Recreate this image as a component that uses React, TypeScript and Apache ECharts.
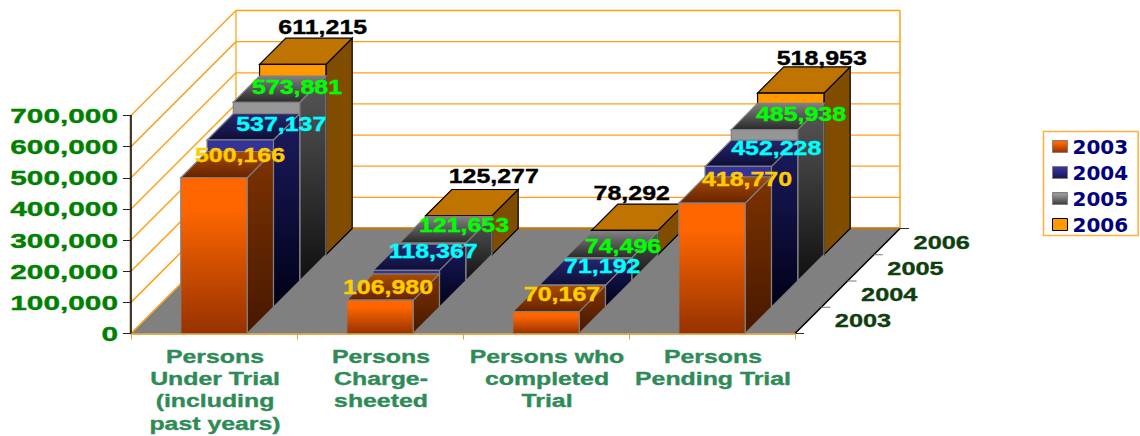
import React, { useEffect, useRef } from "react";
import * as echarts from "echarts";

const categories = [
  "Persons\nUnder Trial\n(including\npast years)",
  "Persons\nCharge-\nsheeted",
  "Persons who\ncompleted\nTrial",
  "Persons\nPending Trial",
];
const years = ["2003", "2004", "2005", "2006"];
const persons2003 = [500166, 106980, 70167, 418770];
const persons2004 = [537137, 118367, 71192, 452228];
const persons2005 = [573881, 121653, 74496, 485938];
const persons2006 = [611215, 125277, 78292, 518953];
const yTicks = [0, 100000, 200000, 300000, 400000, 500000, 600000, 700000];
const yTickLabels = ["0", "100,000", "200,000", "300,000", "400,000", "500,000", "600,000", "700,000"];

const seriesValues = [persons2003, persons2004, persons2005, persons2006];

// Hand-placed data label offsets from the bar's front-top centre [year][category]
const labelOffsets = [
  [[26, -22], [8, -13], [16, -17], [35, -24]],
  [[41, -15.5], [27, -19], [30, -18.5], [38, -18]],
  [[30.5, -15], [31.5, -18], [24.5, -11], [36.5, -15]],
  [[30, -37], [35, -39], [7, -37], [31, -35]],
];
const labelColors = ["#FFCC00", "#00FFFF", "#00FF00", "#000000"];

const SLOT = 26.25;
const DEPTH = SLOT * 4;
const BAR_RATIO = 0.4;
const FONT = '"Liberation Sans", Arial, sans-serif';

const grad = (a: string, b: string, mid = 0.15) =>
  new echarts.graphic.LinearGradient(0, 0, 0, 1, [
    { offset: 0, color: a },
    { offset: mid, color: a },
    { offset: 1, color: b },
  ]);

const barStyles = [
  {
    front: () => grad("#FF6600", "#963200", 0.2),
    side: () => grad("#7D3300", "#471800", 0),
    top: () => grad("#A84E00", "#662200", 0),
    stroke: "#808080",
  },
  {
    front: () => grad("#333399", "#151550", 0.2),
    side: () => grad("#1C1C60", "#000018", 0),
    top: () => grad("#26266E", "#0E0E38", 0),
    stroke: "#808080",
  },
  {
    front: () => grad("#969696", "#3A3A3A", 0.2),
    side: () => grad("#585858", "#101010", 0),
    top: () => grad("#808080", "#2A2A2A", 0),
    stroke: "#808080",
  },
  {
    front: () => "#FF9900",
    side: () => "#7F4C00",
    top: () => "#BF7300",
    stroke: "#000000",
  },
];

const txt = (
  x: number,
  y: number,
  text: string,
  font: string,
  fill: string,
  scaleX: number,
  align: string,
  lineHeight?: number,
  vAlign = "middle"
) => ({
  type: "text",
  x,
  y,
  scaleX,
  style: {
    x: 0,
    y: 0,
    text,
    font,
    fill,
    stroke: fill,
    lineWidth: 0.35,
    align,
    verticalAlign: vAlign,
    textAlign: align,
    textVerticalAlign: vAlign,
    lineHeight,
  },
  silent: true,
});

const line = (x1: number, y1: number, x2: number, y2: number, stroke: string, lineWidth = 1) => ({
  type: "line",
  shape: { x1, y1, x2, y2 },
  style: { stroke, lineWidth, fill: null },
  silent: true,
});

const poly = (points: number[][], fill: any, stroke: string | null, lineWidth = 1.2) => ({
  type: "polygon",
  shape: { points },
  style: { fill, stroke, lineWidth, lineJoin: "miter" },
  silent: true,
});

export default function App() {
  const ref = useRef<HTMLDivElement>(null);

  useEffect(() => {
    const chart = echarts.init(ref.current!, undefined, { renderer: "svg" });

    const WALL = "#FF9F14";

    const wallSeries = {
      type: "custom",
      name: "walls",
      z: 1,
      clip: false,
      silent: true,
      encode: { x: 0, y: 1 },
      data: yTicks.map((v) => [0, v]),
      renderItem: (params: any, api: any) => {
        const v = api.value(1);
        const catW = api.size([1, 0])[0];
        const [cx, y] = api.coord([0, v]);
        const x0 = cx - catW / 2;
        const x1 = x0 + catW * categories.length;
        const children: any[] = [];
        if (params.dataIndex === 0) {
          children.push(
            poly(
              [
                [x0, y],
                [x1, y],
                [x1 + DEPTH, y - DEPTH],
                [x0 + DEPTH, y - DEPTH],
              ],
              "#808080",
              null
            )
          );
          children.push(line(x0 + DEPTH, y - DEPTH, x1 + DEPTH, y - DEPTH, "#B8791E", 2.5));
          const top = api.coord([0, yTicks[yTicks.length - 1]])[1] - DEPTH;
          children.push(line(x0 + DEPTH, top, x0 + DEPTH, y - DEPTH, WALL, 1.2));
          children.push(line(x1 + DEPTH, top, x1 + DEPTH, y - DEPTH, WALL, 1.5));
          children.push(line(x0, y, x0 + DEPTH, y - DEPTH, WALL, 1.5));
          children.push(line(x0 - 1, y, x0 - 1, api.coord([0, yTicks[yTicks.length - 1]])[1], "#C79A5E", 1));
        } else {
          children.push(line(x0, y, x0 + DEPTH, y - DEPTH, WALL, 1.5));
          children.push(line(x0 + DEPTH, y - DEPTH, x1 + DEPTH, y - DEPTH, WALL, 1.3));
        }
        return { type: "group", children };
      },
    };

    const depthAxisSeries = {
      type: "custom",
      name: "depth axis",
      z: 2,
      clip: false,
      silent: true,
      encode: { x: 0, y: 1 },
      data: [0, 1, 2, 3, 4].map((s) => [categories.length - 1, 0, s]),
      renderItem: (_: any, api: any) => {
        const catW = api.size([1, 0])[0];
        const [cx, y] = api.coord([api.value(0), 0]);
        const x = cx + catW / 2;
        const s = api.value(2);
        const children: any[] = [line(x + s * SLOT, y - s * SLOT, x + s * SLOT + 9, y - s * SLOT, s % 4 === 0 ? "#333333" : "#777777", 1)];
        if (s === 0) children.push(line(x, y, x + DEPTH, y - DEPTH, "#000000", 1.5));
        if (s < years.length) {
          children.push(
            txt(x + s * SLOT + 68, y - s * SLOT - 12.5, years[s], `bold 18.5px ${FONT}`, "#0F3F0F", 1.37, "center")
          );
        }
        return { type: "group", children };
      },
    };

    const barSeries = years.map((year, slot) => ({
      type: "custom",
      name: year,
      z: 6 - slot,
      clip: false,
      silent: true,
      encode: { x: 0, y: 1 },
      data: seriesValues[slot].map((v, i) => [i, v]),
      renderItem: (_: any, api: any) => {
        const [cx, yTop] = api.coord([api.value(0), api.value(1)]);
        const [, yBase] = api.coord([api.value(0), 0]);
        const w = api.size([1, 0])[0] * BAR_RATIO;
        const off = slot * SLOT;
        const l = cx - w / 2 + off;
        const r = cx + w / 2 + off;
        const t = yTop - off;
        const b = yBase - off;
        const st = barStyles[slot];
        return {
          type: "group",
          children: [
            poly([[r, t], [r + SLOT, t - SLOT], [r + SLOT, b - SLOT], [r, b]], st.side(), st.stroke),
            poly([[l, t], [l + SLOT, t - SLOT], [r + SLOT, t - SLOT], [r, t]], st.top(), st.stroke),
            poly([[l, t], [r, t], [r, b], [l, b]], st.front(), st.stroke),
          ],
        };
      },
    }));

    const valueLabelSeries = {
      type: "custom",
      name: "value labels",
      z: 10,
      clip: false,
      silent: true,
      encode: { x: 0, y: 1 },
      data: seriesValues.flatMap((vals, slot) => vals.map((v, i) => [i, v, slot])),
      renderItem: (_: any, api: any) => {
        const i = api.value(0);
        const v = api.value(1);
        const slot = api.value(2);
        const [cx, y] = api.coord([i, v]);
        const [dx, dy] = labelOffsets[slot][i];
        return txt(
          cx + slot * SLOT + dx,
          y - slot * SLOT + dy,
          v.toLocaleString("en-US"),
          `bold 19.5px ${FONT}`,
          labelColors[slot],
          1.28,
          "center"
        );
      },
    };

    const yLabelSeries = {
      type: "custom",
      name: "y labels",
      z: 10,
      clip: false,
      silent: true,
      encode: { x: 0, y: 1 },
      data: yTicks.map((v) => [0, v]),
      renderItem: (params: any, api: any) => {
        const catW = api.size([1, 0])[0];
        const [cx, y] = api.coord([0, api.value(1)]);
        return txt(cx - catW / 2 - 13, y + 0.5, yTickLabels[params.dataIndex], `bold 19.5px ${FONT}`, "#008000", 1.53, "right");
      },
    };

    const xLabelSeries = {
      type: "custom",
      name: "x labels",
      z: 10,
      clip: false,
      silent: true,
      encode: { x: 0, y: 1 },
      data: categories.map((_, i) => [i, 0]),
      renderItem: (params: any, api: any) => {
        const [cx, y] = api.coord([api.value(0), 0]);
        return txt(cx + 1, y + 12, categories[params.dataIndex], `bold 18px ${FONT}`, "#2E8B57", 1.38, "center", 22.3, "top");
      },
    };

    chart.setOption({
      animation: false,
      backgroundColor: "#ffffff",
      grid: { left: 131, right: 345, top: 115.5, bottom: 102.5, containLabel: false },
      xAxis: {
        type: "category",
        data: categories,
        z: 8,
        axisLine: { lineStyle: { color: "#D9952B", width: 1.5 } },
        axisTick: { show: true, length: 6, lineStyle: { color: "#E0A040" } },
        axisLabel: { show: false },
        splitLine: { show: false },
      },
      yAxis: {
        type: "value",
        min: 0,
        max: 700000,
        interval: 100000,
        z: 8,
        axisLine: { show: true, lineStyle: { color: "#000000", width: 1.5 } },
        axisTick: { show: true, length: 8, lineStyle: { color: "#222222" } },
        axisLabel: { show: false },
        splitLine: { show: false },
      },
      legend: {
        orient: "vertical",
        left: 1043.5,
        top: 131.5,
        padding: [5, 10, 1, 8.5],
        itemWidth: 15,
        itemHeight: 12,
        itemGap: 6,
        borderColor: "#FFB040",
        borderWidth: 1.5,
        selectedMode: false,
        textStyle: { color: "#000080", fontFamily: "DejaVu Sans", fontWeight: "bold", fontSize: 20 },
        data: years.map((name, slot) => ({
          name,
          icon: "rect",
          itemStyle: {
            color: barStyles[slot].front(),
            borderColor: barStyles[slot].stroke,
            borderWidth: 1,
          },
        })),
      },
      series: [wallSeries, depthAxisSeries, ...barSeries, valueLabelSeries, yLabelSeries, xLabelSeries],
    });

    return () => chart.dispose();
  }, []);

  return <div ref={ref} style={{ position: "absolute", left: 0, top: 0, width: 1140, height: 436 }} />;
}
